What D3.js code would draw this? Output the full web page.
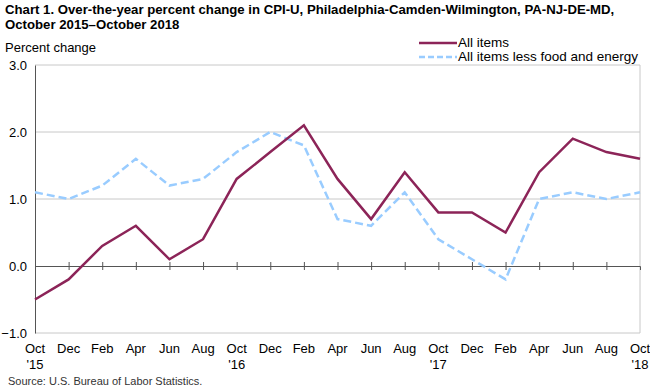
<!DOCTYPE html>
<html>
<head>
<meta charset="utf-8">
<script src="https://cdn.jsdelivr.net/npm/d3@7"></script>
<style>
body { margin:0; background:#fff; }
text { font-family: "Liberation Sans", Arial, sans-serif; }
</style>
</head>
<body>
<svg id="chart" width="650" height="389"></svg>
<script>
// bi-monthly, Oct 2015 - Oct 2018
var months = ["Oct","Dec","Feb","Apr","Jun","Aug","Oct","Dec","Feb","Apr","Jun","Aug","Oct","Dec","Feb","Apr","Jun","Aug","Oct"];
var years = ["'15","","","","","","'16","","","","","","'17","","","","","","'18"];
var allItems = [-0.5,-0.2,0.3,0.6,0.1,0.4,1.3,1.7,2.1,1.3,0.7,1.4,0.8,0.8,0.5,1.4,1.9,1.7,1.6];
var coreItems = [1.1,1.0,1.2,1.6,1.2,1.3,1.7,2.0,1.8,0.7,0.6,1.1,0.4,0.1,-0.2,1.0,1.1,1.0,1.1];
var yTicks = [-1,0,1,2,3];

var svg = d3.select("#chart");
var plotL = 35, plotR = 640, plotT = 65, plotB = 333;

var x = d3.scaleLinear().domain([0, months.length - 1]).range([plotL, plotR]);
var y = d3.scaleLinear().domain([-1, 3]).range([plotB, plotT]);

// title
svg.append("text").attr("x", 5).attr("y", 14)
    .style("font-size", "13.2px").style("font-weight", "bold")
    .text("Chart 1. Over-the-year percent change in CPI-U, Philadelphia-Camden-Wilmington, PA-NJ-DE-MD,");
svg.append("text").attr("x", 5).attr("y", 29)
    .style("font-size", "13.2px").style("font-weight", "bold")
    .text("October 2015\u2013October 2018");

svg.append("text").attr("x", 5).attr("y", 52)
    .style("font-size", "13px").text("Percent change");

// gridlines
svg.append("g").selectAll("line")
    .data(yTicks.filter(function(d) { return d != 0; }))
  .enter().append("line")
    .attr("x1", plotL).attr("x2", plotR)
    .attr("y1", function(d) { return y(d); })
    .attr("y2", function(d) { return y(d); })
    .attr("stroke", "#c8c8c8").attr("stroke-width", 1);

svg.append("line").attr("x1", plotR).attr("x2", plotR)
    .attr("y1", plotT).attr("y2", plotB)
    .attr("stroke", "#c8c8c8");

// y axis
var yAxis = d3.axisLeft(y).tickValues(yTicks).tickSize(0).tickPadding(8)
    .tickFormat(d3.format(".1f"));
var gy = svg.append("g").attr("transform", "translate(" + plotL + ",0)").call(yAxis);
gy.select(".domain").attr("stroke", "#555");
gy.selectAll("text").style("font-size", "13px").attr("fill", "#000")
    .style("font-family", "Liberation Sans, Arial, sans-serif");

// zero line with ticks
var xAxis = d3.axisBottom(x).tickValues(d3.range(1, months.length - 1))
    .tickSize(4).tickFormat("");
var gx = svg.append("g").attr("transform", "translate(0," + y(0) + ")").call(xAxis);
gx.select(".domain").attr("stroke", "#555");
gx.selectAll(".tick line").attr("stroke", "#555").attr("y1", -4).attr("y2", 4);

// x labels
var lab = svg.append("g").selectAll("text").data(months).enter().append("text")
    .attr("x", function(d, i) { return x(i); })
    .attr("y", 353)
    .attr("text-anchor", "middle")
    .style("font-size", "13px");
lab.append("tspan").text(function(d) { return d; });
lab.append("tspan").attr("x", function(d, i) { return x(i); }).attr("dy", 16)
    .text(function(d, i) { return years[i]; });

// lines
var line = d3.line().x(function(d, i) { return x(i); }).y(function(d) { return y(d); });

svg.append("path").datum(coreItems)
    .attr("d", line).attr("fill", "none")
    .attr("stroke", "#99ccff").attr("stroke-width", 2.5)
    .attr("stroke-dasharray", "8,4");

svg.append("path").datum(allItems)
    .attr("d", line).attr("fill", "none")
    .attr("stroke", "#8c2458").attr("stroke-width", 2.5);

// legend
var legend = [
    {name: "All items", color: "#8c2458", dash: null},
    {name: "All items less food and energy", color: "#99ccff", dash: "6,3"}
];
var lg = svg.append("g").selectAll("g").data(legend).enter().append("g")
    .attr("transform", function(d, i) { return "translate(419," + (43 + i * 14) + ")"; });
lg.append("line").attr("x1", 0).attr("x2", 38)
    .attr("stroke", function(d) { return d.color; }).attr("stroke-width", 2.5)
    .attr("stroke-dasharray", function(d) { return d.dash; });
lg.append("text").attr("x", 39).attr("y", 4).style("font-size", "13.5px")
    .text(function(d) { return d.name; });

svg.append("text").attr("x", 8).attr("y", 385)
    .style("font-size", "11px").attr("fill", "#333")
    .text("Source: U.S. Bureau of Labor Statistics.");
</script>
</body>
</html>
